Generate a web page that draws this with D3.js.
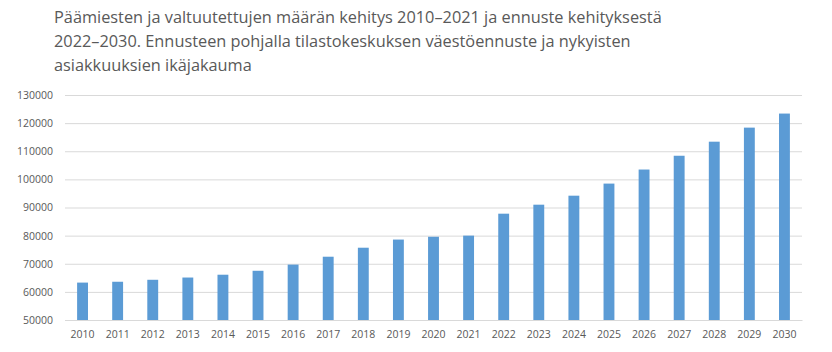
<!DOCTYPE html>
<html>
<head>
<meta charset="utf-8">
<script src="https://cdn.jsdelivr.net/npm/d3@7"></script>
<style>
  body { margin: 0; background: #fff; }
  svg { display: block; }
</style>
</head>
<body>
<div id="chart"></div>
<script>
// Data
const years = ["2010", "2011", "2012", "2013", "2014", "2015", "2016", "2017", "2018", "2019", "2020",
    "2021", "2022", "2023", "2024", "2025", "2026", "2027", "2028", "2029", "2030"]
const counts = [63300, 63600, 64300, 65100, 66100, 67500, 69700, 72500, 75700, 78600, 79600,
    80000, 87800, 91000, 94200, 98500, 103500, 108400, 113400, 118400, 123400]
const yTicks = [50000, 60000, 70000, 80000, 90000, 100000, 110000, 120000, 130000]
const titleLines = [
    "Päämiesten ja valtuutettujen määrän kehitys 2010–2021 ja ennuste kehityksestä",
    "2022–2030. Ennusteen pohjalla tilastokeskuksen väestöennuste ja nykyisten",
    "asiakkuuksien ikäjakauma"
]

const width = 832, height = 352
const margin = {top: 95, right: 30, bottom: 32, left: 65}
const innerW = width - margin.left - margin.right
const innerH = height - margin.top - margin.bottom

const svg = d3.select("#chart").append("svg")
    .attr("width", width)
    .attr("height", height)

// title (narrow font in the original, so squeeze horizontally to the same width)
const titleG = svg.append("g")
    .attr("transform", "translate(54,0)")
const titleText = titleG.selectAll("text")
    .data(titleLines)
    .join("text")
    .attr("x", 0)
    .attr("y", (d, i) => 23 + i * 24)
    .attr("fill", "#595959")
    .style("font-family", "'Open Sans', sans-serif")
    .style("font-size", "17px")
    .text(d => d)
const firstW = titleText.node().getComputedTextLength()
const squeeze = 608 / firstW
titleG.attr("transform", `translate(54,0) scale(${squeeze},1)`)

const g = svg.append("g")
    .attr("transform", `translate(${margin.left},${margin.top})`)

const xScale = d3.scaleBand()
    .domain(years)
    .range([0, innerW])
    .paddingInner(0.69)
    .paddingOuter(0.345)

const yScale = d3.scaleLinear()
    .domain([50000, 130000])
    .range([innerH, 0])

// gridlines
g.append("g")
    .attr("class", "grid")
    .call(d3.axisLeft(yScale)
        .tickValues(yTicks)
        .tickSize(-innerW)
        .tickFormat(""))
    .call(s => s.select(".domain").remove())
    .call(s => s.selectAll("line").attr("stroke", "#d9d9d9").attr("stroke-width", 1))

// y labels
g.append("g")
    .call(d3.axisLeft(yScale)
        .tickValues(yTicks)
        .tickSize(0)
        .tickPadding(12)
        .tickFormat(d3.format("d")))
    .call(s => s.select(".domain").remove())
    .call(s => s.selectAll("text")
        .attr("fill", "#595959")
        .style("font-family", "'Open Sans', sans-serif")
        .style("font-size", "10.5px"))

// bars
g.selectAll(".bar")
    .data(counts)
    .join("rect")
    .attr("class", "bar")
    .attr("x", (d, i) => xScale(years[i]))
    .attr("width", xScale.bandwidth())
    .attr("y", d => yScale(d))
    .attr("height", d => innerH - yScale(d))
    .attr("fill", "#5b9bd5")

// x labels
g.append("g")
    .attr("transform", `translate(0,${innerH})`)
    .call(d3.axisBottom(xScale).tickSize(0).tickPadding(11))
    .call(s => s.select(".domain").attr("stroke", "#d9d9d9"))
    .call(s => s.selectAll("text")
        .attr("fill", "#595959")
        .style("font-family", "'Open Sans', sans-serif")
        .style("font-size", "10.5px"))
</script>
</body>
</html>
